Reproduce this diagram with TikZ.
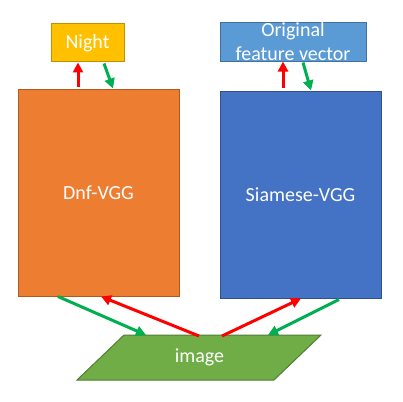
\documentclass[tikz,border=0pt]{standalone}
\usepackage{fontspec}
\setmainfont{Carlito}
\usepackage{tikz}
\usetikzlibrary{positioning}
\usetikzlibrary{arrows.meta}

\definecolor{nightfill}{HTML}{FFC000}
\definecolor{nightline}{HTML}{BF9000}
\definecolor{vecfill}{HTML}{5B9BD5}
\definecolor{vecline}{HTML}{41719C}
\definecolor{dnffill}{HTML}{ED7D31}
\definecolor{dnfline}{HTML}{AE5A21}
\definecolor{siafill}{HTML}{4472C4}
\definecolor{sialine}{HTML}{2F528F}
\definecolor{imgfill}{HTML}{70AD47}
\definecolor{imgline}{HTML}{507E32}
\definecolor{fwd}{HTML}{00B050}
\definecolor{back}{HTML}{FF0000}

\tikzset{
  box/.style={draw,line width=1pt,text=white,inner sep=0pt,font=\fontsize{20}{24}\selectfont},
  fwdarrow/.style={fwd,line width=3pt,-{Triangle[length=10pt,width=10pt]}},
  backarrow/.style={back,line width=3pt,-{Triangle[length=10pt,width=10pt]}}
}

\begin{document}
\begin{tikzpicture}[x=1pt,y=-1pt]
	\useasboundingbox (0,0) rectangle (403,401);
	\node[box,fill=nightfill,draw=nightline,minimum width=73pt,minimum height=38pt](night) at (87.5,43){Night};
	\node[box,fill=vecfill,draw=vecline,minimum width=146pt,minimum height=38pt,align=center](vec) at (293,42){Original\\feature vector};
	\node[box,fill=dnffill,draw=dnfline,minimum width=161pt,minimum height=207pt](dnf) at (98.5,192.5){Dnf-VGG};
	\node[box,fill=siafill,draw=sialine,minimum width=161pt,minimum height=207pt](sia) at (300.5,194.5){Siamese-VGG};
	% the image, a slanted box
	\draw[fill=imgfill,draw=imgline,line width=1pt] (77,380) -- (274,380) -- (321,335) -- (124,335) -- cycle;
	\node[box,draw=none](img) at (199.5,357.5){image};
	% up and down between the nets and their outputs
	\draw[backarrow] ([xshift=-20.5pt,yshift=2pt]dnf.north) -- ([xshift=-9.5pt]night.south);
	\draw[fwdarrow] ([xshift=16.5pt,yshift=-1pt]night.south) -- ([xshift=14.5pt]dnf.north);
	\draw[backarrow] ([xshift=-17.5pt,yshift=3pt]sia.north) -- ([xshift=-10pt]vec.south);
	\draw[fwdarrow] ([xshift=10pt,yshift=-1pt]vec.south) -- ([xshift=10.5pt]sia.north);
	% between the nets and the image
	\draw[fwdarrow] ([xshift=-40.5pt]dnf.south) -- ([xshift=-53.5pt,yshift=22.5pt]img.center);
	\draw[backarrow] ([xshift=-0.5pt,yshift=21.5pt]img.center) -- ([xshift=2.5pt]dnf.south);
	\draw[backarrow] ([xshift=22.5pt,yshift=21.5pt]img.center) -- ([xshift=0.5pt]sia.south);
	\draw[fwdarrow] ([xshift=38.5pt,yshift=-1pt]sia.south) -- ([xshift=68.5pt,yshift=22.5pt]img.center);
\end{tikzpicture}
\end{document}
